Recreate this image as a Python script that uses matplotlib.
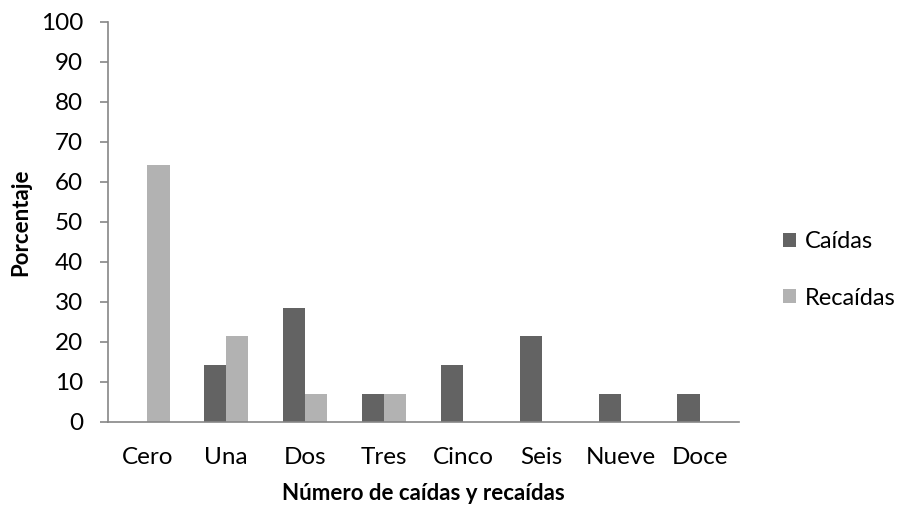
import numpy as np
import matplotlib
matplotlib.use("Agg")
import matplotlib.pyplot as plt

plt.rcParams['font.family'] = ['Lato', 'DejaVu Sans']

categorias = ["Cero", "Una", "Dos", "Tres", "Cinco", "Seis", "Nueve", "Doce"]
caidas = [0, 14.3, 28.6, 7.1, 14.3, 21.4, 7.1, 7.1]
recaidas = [64.3, 21.4, 7.1, 7.1, 0, 0, 0, 0]
yticks = [0, 10, 20, 30, 40, 50, 60, 70, 80, 90, 100]

fig = plt.figure(figsize=(8.99, 5.07), dpi=100)
ax = fig.add_axes([108/899, 1 - 422/507, (739-108)/899, (422-22)/507])

x = np.arange(len(categorias))
w = 0.28
ax.bar(x - w/2, caidas, w, color="#636363", label="Caídas")
ax.bar(x + w/2, recaidas, w, color="#b2b2b2", label="Recaídas")

ax.set_xlim(-0.5, len(categorias) - 0.5)
ax.set_ylim(0, 100)
ax.set_yticks(yticks)
ax.set_xticks(x)
ax.set_xticklabels(categorias)
ax.tick_params(axis="both", labelsize=17.5, colors="#000000")
ax.tick_params(axis="y", length=6, width=1.2, color="#868686", pad=12)
ax.tick_params(axis="x", length=0, pad=18)

for s in ["top", "right"]:
    ax.spines[s].set_visible(False)
for s in ["left", "bottom"]:
    ax.spines[s].set_color("#868686")
    ax.spines[s].set_linewidth(1.2)

ax.set_ylabel("Porcentaje", fontsize=16, fontweight="bold", labelpad=7)
ax.set_xlabel("Número de caídas y recaídas", fontsize=16, fontweight="bold", labelpad=11)

ax.legend(loc="center left", bbox_to_anchor=(1.055, 0.38), frameon=False,
          fontsize=17, handlelength=0.55, handleheight=0.55, labelspacing=1.5,
          handletextpad=0.35, borderaxespad=0)

fig.savefig("out.png", dpi=100)
